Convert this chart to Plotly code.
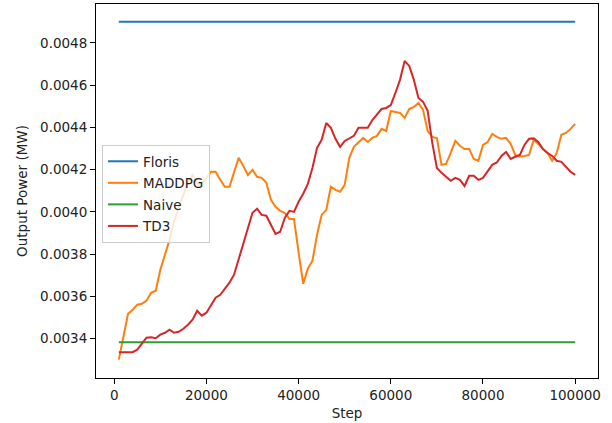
import plotly.graph_objects as go

steps = list(range(1000, 100001, 1000))

floris_value = 0.0049
naive_value = 0.003383

maddpg = [
    0.003301, 0.003409, 0.003518, 0.003537, 0.003561, 0.003565, 0.003580, 0.003617, 0.003627, 0.003726,
    0.003792, 0.003868, 0.003958, 0.004019, 0.004081, 0.004142, 0.004175, 0.004133, 0.004138, 0.004161,
    0.004190, 0.004190, 0.004152, 0.004119, 0.004119, 0.004190, 0.004256, 0.004218, 0.004175, 0.004199,
    0.004166, 0.004161, 0.004138, 0.004057, 0.004024, 0.004005, 0.003996, 0.003967, 0.003967, 0.003807,
    0.003660, 0.003731, 0.003769, 0.003892, 0.003986, 0.004010, 0.004119, 0.004104, 0.004095, 0.004128,
    0.004256, 0.004308, 0.004331, 0.004350, 0.004331, 0.004350, 0.004360, 0.004393, 0.004383, 0.004478,
    0.004473, 0.004469, 0.004445, 0.004487, 0.004497, 0.004516, 0.004483, 0.004383, 0.004355, 0.004350,
    0.004223, 0.004227, 0.004279, 0.004336, 0.004313, 0.004298, 0.004298, 0.004251, 0.004242, 0.004317,
    0.004331, 0.004369, 0.004355, 0.004346, 0.004350, 0.004322, 0.004270, 0.004261, 0.004265, 0.004270,
    0.004341, 0.004322, 0.004298, 0.004279, 0.004242, 0.004279, 0.004365, 0.004374, 0.004393, 0.004417,
]

td3 = [
    0.003336, 0.003336, 0.003336, 0.003336, 0.003348, 0.003376, 0.003405, 0.003407, 0.003402, 0.003419,
    0.003428, 0.003443, 0.003428, 0.003433, 0.003447, 0.003466, 0.003490, 0.003532, 0.003509, 0.003523,
    0.003561, 0.003594, 0.003608, 0.003636, 0.003665, 0.003703, 0.003774, 0.003854, 0.003925, 0.003996,
    0.004015, 0.003986, 0.003982, 0.003939, 0.003896, 0.003906, 0.003972, 0.004005, 0.004000, 0.004048,
    0.004086, 0.004133, 0.004208, 0.004303, 0.004341, 0.004421, 0.004398, 0.004346, 0.004308, 0.004336,
    0.004350, 0.004360, 0.004398, 0.004398, 0.004398, 0.004435, 0.004459, 0.004487, 0.004492, 0.004506,
    0.004563, 0.004625, 0.004714, 0.004691, 0.004625, 0.004539, 0.004521, 0.004478, 0.004327, 0.004208,
    0.004185, 0.004166, 0.004147, 0.004161, 0.004152, 0.004123, 0.004171, 0.004171, 0.004152, 0.004161,
    0.004194, 0.004223, 0.004234, 0.004265, 0.004284, 0.004251, 0.004261, 0.004270, 0.004317, 0.004346,
    0.004348, 0.004331, 0.004298, 0.004279, 0.004265, 0.004242, 0.004237, 0.004213, 0.004190, 0.004175,
]

series = [
    ("Floris", [floris_value] * len(steps), "#1f77b4"),
    ("MADDPG", maddpg, "#ff7f0e"),
    ("Naive", [naive_value] * len(steps), "#2ca02c"),
    ("TD3", td3, "#d62728"),
]

fig = go.Figure()
for name, vals, color in series:
    fig.add_trace(go.Scatter(
        x=steps, y=vals, mode="lines", name=name, legendgroup=name,
        line=dict(color=color, width=2),
    ))

font_family = "DejaVu Sans"
axis_common = dict(
    showline=True, linecolor="black", linewidth=1, mirror=True,
    ticks="outside", ticklen=5, tickwidth=1, tickcolor="black",
    showgrid=False, zeroline=False,
    tickfont=dict(family=font_family, size=13.5, color="#222"),
)

fig.update_layout(
    width=612, height=423,
    margin=dict(l=96, r=14, t=4, b=45),
    paper_bgcolor="white", plot_bgcolor="white",
    font=dict(family=font_family, size=13.5, color="#222"),
    xaxis=dict(
        range=[-3950, 104950], tickmode="linear", tick0=0, dtick=20000, tickformat="d",
        title=dict(text="Step", font=dict(family=font_family, size=13.5, color="#222"), standoff=6),
        **axis_common,
    ),
    yaxis=dict(
        range=[0.003214, 0.004984], tickmode="linear", tick0=0.0034, dtick=0.0002, tickformat=".4f",
        title=dict(text="Output Power (MW)", font=dict(family=font_family, size=13.5, color="#222"), standoff=9),
        **axis_common,
    ),
    legend=dict(
        x=0.012, y=0.623, xanchor="left", yanchor="top",
        bgcolor="rgba(255,255,255,0.8)", bordercolor="#cccccc", borderwidth=1,
        font=dict(family=font_family, size=13.5, color="#222"),
        tracegroupgap=1,
    ),
    showlegend=True,
)

fig.write_html("out.html")
